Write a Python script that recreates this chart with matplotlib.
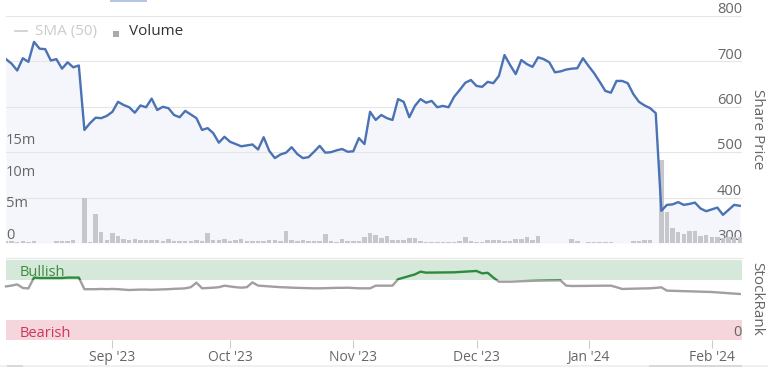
import numpy as np
import pandas as pd
import matplotlib
matplotlib.use('Agg')
import matplotlib.pyplot as plt
from matplotlib.patches import Rectangle
from matplotlib.lines import Line2D

plt.rcParams['font.family'] = ['Open Sans', 'DejaVu Sans']

# trading days shown on the chart
holidays = ['2023-12-25', '2024-01-01']
dates = pd.bdate_range('2023-08-07', '2024-02-08', freq='C', holidays=holidays)

price = [705, 695, 680, 707, 699, 743, 728, 727, 702, 705,
         684, 698, 687, 691, 549, 564, 576, 575, 580, 589,
         611, 604, 599, 587, 603, 599, 618, 593, 600, 597,
         582, 577, 591, 583, 575, 549, 553, 542, 521, 534,
         523, 518, 513, 515, 517, 506, 533, 503, 487, 495,
         499, 511, 496, 487, 489, 501, 514, 499, 500, 504,
         507, 501, 502, 531, 518, 589, 571, 582, 575, 571,
         617, 611, 577, 602, 617, 609, 613, 599, 602, 599,
         622, 637, 653, 659, 646, 644, 655, 652, 668, 714,
         692, 672, 703, 694, 688, 709, 705, 698, 676, 678,
         682, 684, 685, 707, 690, 674, 655, 635, 631, 657,
         657, 652, 628, 611, 603, 597, 586, 371, 384, 385,
         390, 384, 386, 389, 376, 370, 374, 378, 362, 373,
         384, 382]

# volume in millions
volume = [0.25, 0.3, 0.2, 0.35, 0.2, 0.35, 0.05, 0.05, 0.05, 0.25,
          0.25, 0.3, 0.4, 0.05, 7.0, 0.1, 4.6, 1.8, 0.5, 1.5,
          1.1, 0.6, 0.5, 0.6, 0.5, 0.5, 0.5, 0.4, 0.3, 0.7,
          0.3, 0.3, 0.3, 0.3, 0.4, 0.3, 1.5, 0.4, 0.4, 0.6,
          0.3, 0.4, 0.7, 0.3, 0.3, 0.3, 0.3, 0.4, 0.5, 0.3,
          1.9, 0.4, 0.3, 0.5, 0.3, 0.3, 0.3, 1.4, 0.3, 0.2,
          0.6, 0.3, 0.3, 0.3, 0.9, 1.6, 1.2, 0.8, 1.1, 0.4,
          0.4, 0.4, 0.8, 0.8, 0.3, 0.2, 0.2, 0.2, 0.2, 0.2,
          0.2, 0.3, 1.0, 0.3, 0.2, 0.2, 0.5, 0.5, 0.5, 0.3,
          0.3, 0.6, 0.6, 0.9, 0.4, 1.1, 0.05, 0.05, 0.05, 0.05,
          0.05, 0.6, 0.3, 0.05, 0.15, 0.15, 0.15, 0.15, 0.15, 0.02,
          0.02, 0.02, 0.3, 0.3, 0.5, 0.5, 0.05, 13.0, 4.8, 2.4,
          1.7, 1.4, 1.9, 1.9, 1.1, 1.2, 1.0, 1.0, 0.8, 1.0,
          0.9, 0.9]

stockrank = [67, 68, 69.5, 65, 64.5, 78, 77.5, 77.5, 77.5, 77.5,
             77.5, 78, 78, 78, 63.5, 63.5, 63.5, 63.8, 63.5, 63.8,
             63.5, 63, 62.5, 62.8, 63, 63, 62.8, 63, 63.2, 63.5,
             64, 64.2, 64.6, 66, 71.7, 64.6, 65, 65.4, 66, 67.9,
             67, 66, 65.4, 66, 72, 68, 67.5, 67, 66.5, 66,
             65.8, 65.4, 65.2, 65, 64.8, 64.6, 64.6, 64.8, 65, 65.2,
             65.2, 65.4, 65, 64.6, 64.6, 64.6, 67.9, 67.9, 67.9, 67.9,
             76, 78, 80, 82, 85.4, 84.2, 84.3, 84.4, 84.5, 84.6,
             84.6, 85, 85.5, 85.8, 86.3, 83.3, 84, 78, 72.9, 72.9,
             72.9, 73.2, 73.5, 73.8, 74, 74.2, 74.3, 74.4, 74.5, 74.6,
             68, 67.5, 67.5, 67.6, 67.7, 67.8, 67.8, 67.9, 67.9, 66,
             63.8, 64, 64.2, 64.4, 64.5, 64.6, 65.2, 65.8, 61.7, 61.5,
             61.3, 61.1, 60.9, 60.7, 60.5, 60.4, 60, 59.5, 59, 58.5,
             58, 57.5]

price_ticks = [300, 400, 500, 600, 700, 800]
volume_ticks = [0, 5, 10, 15]
volume_labels = ['0', '5m', '10m', '15m']

W, H = 768, 367
fig = plt.figure(figsize=(W / 100, H / 100), dpi=100)


def box(x0, y0, x1, y1):
    return [x0 / W, 1 - y1 / H, (x1 - x0) / W, (y1 - y0) / H]


x = np.arange(len(dates))
xmax = len(dates) - 1 + 0.4
grey = '#666666'
grid_c = '#e6e6e6'

# price pane: background grid + area fill
ax = fig.add_axes(box(6, 16, 742, 243))
ax.set_xlim(0, xmax)
ax.set_ylim(300, 800)
ax.set_yticks(price_ticks)
ax.set_xticks([])
ax.tick_params(left=False, labelleft=False)
for s in ax.spines.values():
    s.set_visible(False)
ax.grid(axis='y', color=grid_c, lw=0.8)
ax.fill_between(x, price, 300, color='#f4f6fb', lw=0)
for p in price_ticks:
    ax.annotate(str(p), xy=(1, p), xycoords=ax.get_yaxis_transform(),
                xytext=(0, 2), textcoords='offset points',
                ha='right', va='baseline', fontsize=10.5, color=grey)

# volume bars
axv = fig.add_axes(box(6, 16, 742, 243))
axv.set_xlim(0, xmax)
axv.set_ylim(0, 35.7)
axv.axis('off')
axv.bar(x, volume, width=0.8, color='#c6c7cc', lw=0)
for v, lbl in zip(volume_ticks, volume_labels):
    axv.annotate(lbl, xy=(0, v), xycoords=axv.get_yaxis_transform(),
                 xytext=(0, 2.8), textcoords='offset points',
                 ha='left', va='baseline', fontsize=10.5, color=grey)

# price line on top
axl = fig.add_axes(box(6, 16, 742, 243))
axl.set_xlim(0, xmax)
axl.set_ylim(300, 800)
axl.axis('off')
axl.plot(x, price, color='#4a72b5', lw=1.7, solid_joinstyle='round')

# legend
fig.add_artist(Line2D([15 / W, 27 / W], [1 - 31 / H] * 2, color='#cccccc', lw=1.2))
fig.text(35 / W, 1 - 31.5 / H, 'SMA (50)', color='#cccccc', fontsize=11, va='center')
fig.add_artist(Rectangle((112.5 / W, 1 - 37 / H), 6.5 / W, 6.5 / H, color='#aaaaaa', lw=0))
fig.text(129 / W, 1 - 31.5 / H, 'Volume', color='#333333', fontsize=11, va='center')
fig.add_artist(Rectangle((110 / W, 1 - 1.5 / H), 37 / W, 1.5 / H, color='#b3c6e8', lw=0))

fig.text(757 / W, 1 - 129 / H, 'Share Price', rotation=270, ha='center', va='center',
         fontsize=11, color=grey)

# stockrank pane
ax2 = fig.add_axes(box(6, 258, 742, 340))
ax2.set_xlim(0, xmax)
ax2.set_ylim(0, 102.5)
for s in ax2.spines.values():
    s.set_visible(False)
ax2.set_yticks([])
ax2.axhspan(75, 100, color='#d6e8da', lw=0)
ax2.axhspan(0, 25, color='#f4d6dc', lw=0)
ax2.axhline(102.5, color=grid_c, lw=0.8, clip_on=False)

low = ax2.plot(x, stockrank, color='#a0a0a0', lw=1.7)[0]
high = ax2.plot(x, stockrank, color='#2e8b3e', lw=1.7)[0]
low.set_clip_path(Rectangle((-1, 0), xmax + 2, 75, transform=ax2.transData))
high.set_clip_path(Rectangle((-1, 75), xmax + 2, 30, transform=ax2.transData))

ax2.text(0.018, 84.5, 'Bullish', transform=ax2.get_yaxis_transform(), fontsize=10.5,
         color='#3d8b3d', va='center')
ax2.text(0.018, 8.5, 'Bearish', transform=ax2.get_yaxis_transform(), fontsize=10.5,
         color='#cf3759', va='center')
ax2.annotate('0', xy=(1, 0), xycoords=ax2.get_yaxis_transform(), xytext=(0, 3),
             textcoords='offset points', ha='right', va='baseline', fontsize=10.5, color=grey)

month_idx = [i for i in range(1, len(dates)) if dates[i].month != dates[i - 1].month]
ax2.set_xticks(month_idx)
ax2.set_xticklabels([dates[i].strftime("%b '%y") for i in month_idx])
ax2.tick_params(axis='x', length=6, width=0.8, color='#cccccc', labelcolor=grey,
                labelsize=10, pad=1.5)

fig.text(757 / W, 1 - 299 / H, 'StockRank', rotation=270, ha='center', va='center',
         fontsize=11, color=grey)

# navigator scrollbar remnants at the bottom
fig.add_artist(Rectangle((0, 1 - 366.5 / H), 1, 2 / H, color='#f0f0f0', lw=0))
fig.add_artist(Rectangle((7 / W, 1 - 366.5 / H), 16 / W, 2 / H, color='#d9d9d9', lw=0))
fig.add_artist(Rectangle((649 / W, 1 - 366.5 / H), 93 / W, 2 / H, color='#d9d9d9', lw=0))

fig.savefig('out.png', dpi=100)
